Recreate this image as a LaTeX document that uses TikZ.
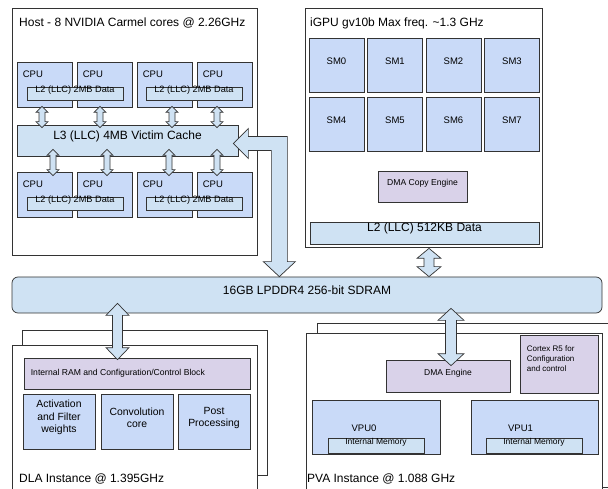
\documentclass[tikz,border=0pt]{standalone}
\usepackage{fontspec}
\setmainfont{Liberation Sans}
\usetikzlibrary{fit,calc}

\definecolor{cpublue}{HTML}{C9DAF8}
\definecolor{cacheblue}{HTML}{CFE2F3}
\definecolor{ctrlpurple}{HTML}{D9D2E9}
\definecolor{edge}{HTML}{333333}

\newcommand{\fatv}[5]{%
  \draw[fatarrow] let \p1=(#1), \p2=(#2) in
    (\x1,\y1) -- (\x1+#4pt,\y1-#5pt) -- (\x1+#3pt,\y1-#5pt) -- (\x1+#3pt,\y2+#5pt)
    -- (\x1+#4pt,\y2+#5pt) -- (\x1,\y2) -- (\x1-#4pt,\y2+#5pt) -- (\x1-#3pt,\y2+#5pt)
    -- (\x1-#3pt,\y1-#5pt) -- (\x1-#4pt,\y1-#5pt) -- cycle;}

\begin{document}
\begin{tikzpicture}[x=1pt, y=-1pt,
    box/.style = {draw=edge, line width=0.7pt, inner sep=0pt, align=center},
    cpubox/.style = {box, fill=cpublue},
    cachebox/.style = {box, fill=cacheblue},
    ctrlbox/.style = {box, fill=ctrlpurple},
    frame/.style = {draw=edge, line width=0.7pt, fill=white, inner sep=0pt},
    caption/.style = {anchor=base west, inner sep=0pt, font=\fontsize{12}{14}\selectfont},
    fatarrow/.style = {draw=edge, line width=0.7pt, fill=cacheblue, line join=miter}]
    \tikzstyle{cpu}=[cpubox, label={[anchor=north west, inner sep=0pt, xshift=6pt, yshift=-9pt,
      font=\fontsize{9.5}{11}\selectfont]north west:CPU}]
    \tikzstyle{small}=[font=\fontsize{8.6}{10}\selectfont]
    \tikzstyle{big}=[font=\fontsize{12}{14}\selectfont]
    \tikzstyle{sm}=[cpubox, font=\fontsize{9.5}{11}\selectfont]

    \useasboundingbox (0,0) rectangle (608,489);

    \node[frame, fit={(12,8) (257,255)}] (host) {};
    \node[caption] (hosttitle) at (19,27) {Host - 8 NVIDIA Carmel cores @ 2.26GHz};
    \node[cpu, fit={(17,62) (72,107)}] (cpuA1) {};
    \node[cpu, fit={(77,62) (132,107)}] (cpuA2) {};
    \node[cpu, fit={(137,62) (192,107)}] (cpuA3) {};
    \node[cpu, fit={(197,62) (252,107)}] (cpuA4) {};
    \node[cachebox, fit={(27,87) (123,100)}, font=\fontsize{9.2}{10}\selectfont] (l2A1) {L2 (LLC) 2MB Data};
    \node[cachebox, fit={(146,87) (242,100)}, font=\fontsize{9.2}{10}\selectfont] (l2A2) {L2 (LLC) 2MB Data};
    \node[cachebox, big, fit={(17,125) (238,156)}] (l3) {L3 (LLC) 4MB Victim Cache};
    \node[cpu, fit={(17,172) (72,217)}] (cpuB1) {};
    \node[cpu, fit={(77,172) (132,217)}] (cpuB2) {};
    \node[cpu, fit={(137,172) (192,217)}] (cpuB3) {};
    \node[cpu, fit={(197,172) (252,217)}] (cpuB4) {};
    \node[cachebox, fit={(27,197) (123,210)}, font=\fontsize{9.2}{10}\selectfont] (l2B1) {L2 (LLC) 2MB Data};
    \node[cachebox, fit={(146,197) (242,210)}, font=\fontsize{9.2}{10}\selectfont] (l2B2) {L2 (LLC) 2MB Data};

    \fatv{$(cpuA1.south)+(-2.5,-1)$}{$(l3.north)+(0,3)$}{3}{6}{6}
    \fatv{$(cpuA2.south)+(-4.5,-1)$}{$(l3.north)+(0,3)$}{3}{6}{6}
    \fatv{$(cpuA3.south)+(7.5,-1)$}{$(l3.north)+(0,3)$}{3}{6}{6}
    \fatv{$(cpuA4.south)+(-7.5,-1)$}{$(l3.north)+(0,3)$}{3}{6}{6}
    \fatv{$(cpuB1.north |- l3.south)+(8.5,-7)$}{$(cpuB1.north)+(0,4)$}{3}{6}{6}
    \fatv{$(cpuB2.north |- l3.south)+(2.5,-7)$}{$(cpuB2.north)+(0,4)$}{3}{6}{6}
    \fatv{$(cpuB3.north |- l3.south)+(4.5,-7)$}{$(cpuB3.north)+(0,4)$}{3}{6}{6}
    \fatv{$(cpuB4.north |- l3.south)+(-7.5,-7)$}{$(cpuB4.north)+(0,4)$}{3}{6}{6}

    \node[frame, fit={(305,8) (542,247)}] (gpu) {};
    \node[caption] (gputitle) at (310,27) {iGPU gv10b Max freq. \textasciitilde1.3 GHz};
    \node[sm, fit={(309,38) (364,92)}] (sm0) {SM0};
    \node[sm, fit={(367.5,38) (422.5,92)}] (sm1) {SM1};
    \node[sm, fit={(426,38) (481,92)}] (sm2) {SM2};
    \node[sm, fit={(484.5,38) (539.5,92)}] (sm3) {SM3};
    \node[sm, fit={(309,97) (364,151)}] (sm4) {SM4};
    \node[sm, fit={(367.5,97) (422.5,151)}] (sm5) {SM5};
    \node[sm, fit={(426,97) (481,151)}] (sm6) {SM6};
    \node[sm, fit={(484.5,97) (539.5,151)}] (sm7) {SM7};
    \node[ctrlbox, small, fit={(378,171) (467,202)}] (copyeng) {DMA Copy Engine};
    \node[cachebox, big, fit={(310,222) (539,244)}] (gpul2) {L2 (LLC) 512KB Data};

    \node[cachebox, big, rounded corners=6pt, fit={(12,277) (602,313)}] (mem) {16GB LPDDR4 256-bit SDRAM};

    \node[frame, fit={(22,330) (267,475)}] (dlaback) {};
    \node[frame, fit={(12,345) (257,495)}] (dla) {};
    \node[ctrlbox, fit={(24,358) (250,389)}, label={[anchor=west, inner sep=0pt, xshift=7pt,
      font=\fontsize{8.6}{10}\selectfont]west:Internal RAM and Configuration/Control Block}] (dlaram) {};
    \node[cpubox, fit={(23,394) (95,449)}, font=\fontsize{10.4}{12.5}\selectfont] (actw) {Activation\\and Filter\\weights};
    \node[cpubox, fit={(101,394) (173,449)}, font=\fontsize{10.4}{12.5}\selectfont] (conv) {Convolution\\core};
    \node[cpubox, fit={(178,394) (250,449)}, font=\fontsize{10.4}{12.5}\selectfont] (post) {Post\\Processing};
    \node[caption] (dlatitle) at (19,482) {DLA Instance @ 1.395GHz};

    \node[frame, fit={(317,323) (620,487)}] (pvaback) {};
    \node[frame, fit={(306,333) (602,495)}] (pva) {};
    \node[ctrlbox, fit={(386,360) (510,392)}, font=\fontsize{8.5}{10}\selectfont] (pvadma) {DMA Engine};
    \node[ctrlbox, fit={(520,335) (598,393)}, label={[anchor=north west, align=left, inner sep=0pt,
      xshift=7pt, yshift=-11pt, font=\fontsize{8}{10}\selectfont]north west:Cortex R5 for\\Configuration\\and control}] (cortex) {};
    \node[cpubox, fit={(312,400) (440,454)}, label={[anchor=base, inner sep=0pt, xshift=-12pt, yshift=-32pt,
      font=\fontsize{9.5}{11}\selectfont]north:VPU0}] (vpu0) {};
    \node[cpubox, fit={(471,400) (598,454)}, label={[anchor=base, inner sep=0pt, xshift=-14pt, yshift=-32pt,
      font=\fontsize{9.5}{11}\selectfont]north:VPU1}] (vpu1) {};
    \node[cachebox, fit={(328,438) (424,453)}, font=\fontsize{8.5}{10}\selectfont] (vmem0) {Internal Memory};
    \node[cachebox, fit={(486,438) (582,453)}, font=\fontsize{8.5}{10}\selectfont] (vmem1) {Internal Memory};
    \node[caption] (pvatitle) at (307,482) {PVA Instance @ 1.088 GHz};

    \fatv{$(gpul2.south)+(4.5,4)$}{mem.north}{5}{12}{10}
    \fatv{$(dlaram.north |- mem.south)+(-19.5,-10)$}{$(dlaram.north)+(0,2)$}{5}{11.5}{12}
    \fatv{$(pvadma.north |- mem.south)+(3,-5)$}{$(pvadma.north)+(0,6)$}{5.5}{13}{12}
    \draw[fatarrow] let \p1=($(l3.east)+(-5,3)$), \p2=(mem.north) in
      (\x1,\y1) -- (\x1+15pt,\y1+15pt) -- (\x1+15pt,\y1+7pt) -- (\x1+54pt,\y1+7pt)
      -- (\x1+54pt,\y2+15pt) -- (\x1+62pt,\y2+15pt) -- (\x1+46pt,\y2) -- (\x1+30pt,\y2+15pt)
      -- (\x1+38pt,\y2+15pt) -- (\x1+38pt,\y1-7pt) -- (\x1+15pt,\y1-7pt) -- (\x1+15pt,\y1-15pt) -- cycle;
\end{tikzpicture}
\end{document}
